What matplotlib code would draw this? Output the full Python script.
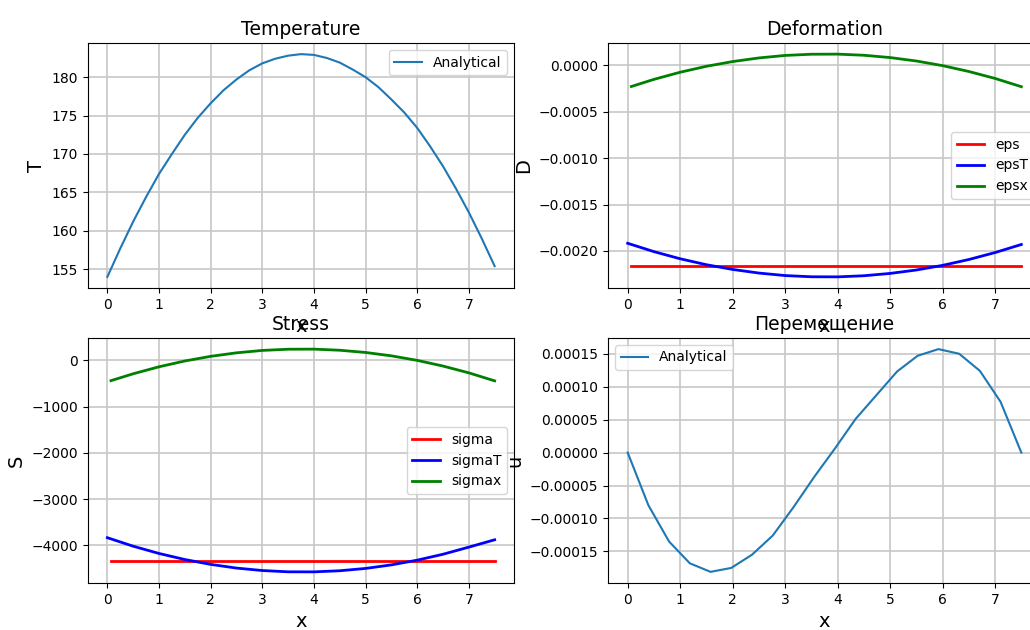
import matplotlib

matplotlib.use("Agg")
import matplotlib.pyplot as plt

# temperature along the rod
x_temp = [0.0, 0.25, 0.5, 0.75, 1.0, 1.25, 1.5, 1.75, 2.0, 2.25, 2.5, 2.75, 3.0, 3.25, 3.5, 3.75,
          4.0, 4.25, 4.5, 4.75, 5.0, 5.25, 5.5, 5.75, 6.0, 6.25, 6.5, 6.75, 7.0, 7.25, 7.5]
temp = [154.0, 157.7, 161.2, 164.4, 167.4, 170.0, 172.5, 174.7, 176.6, 178.3, 179.7, 180.9,
        181.8, 182.4, 182.8, 183.0, 182.9, 182.5, 181.9, 181.0, 180.0, 178.7, 177.1, 175.4,
        173.4, 171.0, 168.4, 165.5, 162.4, 159.0, 155.4]

x_nodes = [0.0, 0.5, 1.0, 1.5, 2.0, 2.5, 3.0, 3.5, 4.0, 4.5, 5.0, 5.5, 6.0, 6.5, 7.0, 7.5]
# element midpoints (first one is slightly off zero)
x_mid = [0.07, 0.5, 1.0, 1.5, 2.0, 2.5, 3.0, 3.5, 4.0, 4.5, 5.0, 5.5, 6.0, 6.5, 7.0, 7.5]

eps = [-0.002165, -0.002165, -0.002165, -0.002165, -0.002165, -0.002165, -0.002165, -0.002165,
       -0.002165, -0.002165, -0.002165, -0.002165, -0.002165, -0.002165, -0.002165, -0.002165]
eps_t = [-0.001917, -0.002007, -0.002084, -0.002148, -0.002199, -0.002238, -0.002265, -0.002278,
         -0.002279, -0.002267, -0.002242, -0.002205, -0.002155, -0.002092, -0.002017, -0.001930]
eps_x = [-0.000227, -0.000150, -0.000073, -0.000009, 0.000042, 0.000081, 0.000108, 0.000121,
         0.000122, 0.000110, 0.000085, 0.000048, -0.000002, -0.000065, -0.000140, -0.000229]

sigma = [-4340, -4340, -4340, -4340, -4340, -4340, -4340, -4340,
         -4340, -4340, -4340, -4340, -4340, -4340, -4340, -4340]
sigma_t = [-3835, -4019, -4176, -4307, -4412, -4492, -4545, -4573,
           -4574, -4550, -4500, -4423, -4321, -4193, -4039, -3880]
sigma_x = [-438, -289, -138, -12, 88, 164, 216, 242,
           244, 220, 172, 99, 1, -122, -269, -442]

# displacement, 20 nodes
x_u = [0.0, 0.395, 0.789, 1.184, 1.579, 1.974, 2.368, 2.763, 3.158, 3.553,
       3.947, 4.342, 4.737, 5.132, 5.526, 5.921, 6.316, 6.711, 7.105, 7.5]
u = [0.0, -0.80e-4, -1.35e-4, -1.68e-4, -1.81e-4, -1.75e-4, -1.55e-4, -1.26e-4, -0.83e-4, -0.37e-4,
     0.06e-4, 0.51e-4, 0.87e-4, 1.23e-4, 1.47e-4, 1.57e-4, 1.50e-4, 1.24e-4, 0.77e-4, 0.0]

fig = plt.figure(figsize=(10.3, 6.3), dpi=100)
W, H = 1030, 630


def place(left, top, width, height):
    return fig.add_axes([left / W, 1 - (top + height) / H, width / W, height / H])


# right column runs past the figure edge, as in the cropped screenshot
ax_t = place(88, 43, 426, 245)
ax_d = place(608, 43, 433, 245)
ax_s = place(88, 338, 426, 245)
ax_u = place(608, 338, 433, 245)

ax_t.plot(x_temp, temp, label="Analytical")
ax_t.set_title("Temperature", fontsize=13.5)
ax_t.set_ylabel("T", fontsize=14)
ax_t.legend(loc="upper right")

ax_d.plot(x_mid, eps, color="r", lw=2, label="eps")
ax_d.plot(x_nodes, eps_t, color="b", lw=2, label="epsT")
ax_d.plot(x_mid, eps_x, color="g", lw=2, label="epsx")
ax_d.set_title("Deformation", fontsize=13.5)
ax_d.set_ylabel("D", fontsize=14)
ax_d.legend(loc="center right")

ax_s.plot(x_mid, sigma, color="r", lw=2, label="sigma")
ax_s.plot(x_nodes, sigma_t, color="b", lw=2, label="sigmaT")
ax_s.plot(x_mid, sigma_x, color="g", lw=2, label="sigmax")
ax_s.set_title("Stress", fontsize=13.5)
ax_s.set_ylabel("S", fontsize=14)
ax_s.legend(loc="center right")

ax_u.plot(x_u, u, label="Analytical")
ax_u.set_title("Перемещение", fontsize=13.5)
ax_u.set_ylabel("u", fontsize=14)
ax_u.legend(loc="upper left")

for ax in (ax_t, ax_d, ax_s, ax_u):
    ax.set_xlabel("x", fontsize=14)
    ax.grid(True, color="0.78", lw=1.2)

fig.savefig("out.png", dpi=100)
